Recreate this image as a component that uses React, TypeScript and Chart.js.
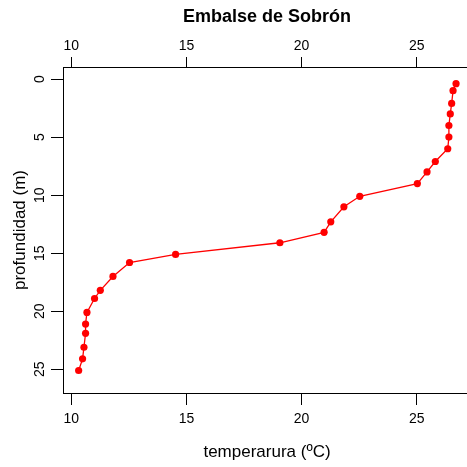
import React, { useEffect, useRef } from "react";
import { Chart, registerables } from "chart.js";

Chart.register(...registerables);

// Depth (m) and temperature (ºC) profile
const depths = [0.4, 1, 2.1, 3, 4, 5, 6, 7.1, 8, 9, 10.1, 11, 12.3, 13.2, 14.1, 15.1, 15.8, 17, 18.2, 18.9, 20.1, 21.1, 21.9, 23.1, 24.1, 25.1];
const temps = [26.71, 26.58, 26.52, 26.46, 26.4, 26.4, 26.35, 25.81, 25.45, 25.03, 22.53, 21.84, 21.27, 20.98, 19.06, 14.53, 12.53, 11.81, 11.26, 11.01, 10.68, 10.62, 10.62, 10.55, 10.49, 10.32];

const xTickValues = [10, 15, 20, 25];
const yTickValues = [0, 5, 10, 15, 20, 25];
const xLimits = [9.64, 27.36];
const yLimits = [-1.04, 27.04];

const mainTitle = "Embalse de Sobrón";
const xTitle = "temperarura (ºC)";
const yTitle = "profundidad (m)";

const FONT = '"Liberation Sans", Arial, sans-serif';

export default function App() {
  const ref = useRef<HTMLCanvasElement | null>(null);

  useEffect(() => {
    if (!ref.current) return;
    const points = depths.map((d, i) => ({ x: temps[i], y: d }));
    const gridOpts = (len: number) => ({
      display: true,
      drawOnChartArea: false,
      drawTicks: true,
      tickLength: len,
      tickColor: "#000",
      tickWidth: 1,
    });
    const borderOpts = { display: true, color: "#000", width: 1 };
    const chart = new Chart(ref.current, {
      type: "line",
      data: {
        datasets: [
          {
            data: points,
            xAxisID: "x",
            yAxisID: "y",
            borderColor: "#ff0000",
            backgroundColor: "#ff0000",
            borderWidth: 1.3,
            pointRadius: 3.6,
            pointBorderWidth: 0,
            pointBackgroundColor: "#ff0000",
            fill: false,
            tension: 0,
            clip: false as any,
          },
        ],
      },
      options: {
        responsive: false,
        animation: false,
        devicePixelRatio: 1,
        layout: { padding: { left: 0, top: 0, right: 4, bottom: 0 } },
        plugins: {
          legend: { display: false },
          title: { display: false },
          tooltip: { enabled: false },
        },
        scales: {
          x: {
            type: "linear",
            position: "bottom",
            min: xLimits[0],
            max: xLimits[1],
            afterBuildTicks: (s: any) => {
              s.ticks = xTickValues.map((v) => ({ value: v }));
            },
            afterFit: (s: any) => {
              s.height = 74;
            },
            grid: gridOpts(12),
            border: borderOpts,
            ticks: {
              autoSkip: false,
              maxRotation: 0,
              minRotation: 0,
              padding: 6,
              color: "#000",
              font: { family: FONT, size: 14 },
            },
            title: {
              display: true,
              text: xTitle,
              color: "#000",
              font: { family: FONT, size: 17 },
              padding: { top: 0, bottom: 4 },
            },
          },
          x2: {
            type: "linear",
            position: "top",
            min: xLimits[0],
            max: xLimits[1],
            afterBuildTicks: (s: any) => {
              s.ticks = xTickValues.map((v) => ({ value: v }));
            },
            afterFit: (s: any) => {
              s.height = 67;
            },
            grid: gridOpts(10),
            border: borderOpts,
            ticks: {
              autoSkip: false,
              maxRotation: 0,
              minRotation: 0,
              padding: 2,
              color: "#000",
              font: { family: FONT, size: 14 },
            },
            title: {
              display: true,
              text: mainTitle,
              color: "#000",
              font: { family: FONT, size: 18, weight: "bold" },
              padding: { top: 6, bottom: 0 },
            },
          },
          y: {
            type: "linear",
            position: "left",
            reverse: true,
            min: yLimits[0],
            max: yLimits[1],
            afterBuildTicks: (s: any) => {
              s.ticks = yTickValues.map((v) => ({ value: v }));
            },
            afterFit: (s: any) => {
              s.width = 63;
            },
            grid: gridOpts(12),
            border: borderOpts,
            ticks: {
              autoSkip: false,
              minRotation: 90,
              maxRotation: 90,
              crossAlign: "center",
              padding: 3,
              color: "#000",
              font: { family: FONT, size: 14 },
            },
            title: {
              display: true,
              text: yTitle,
              color: "#000",
              font: { family: FONT, size: 17 },
              padding: { top: 10, bottom: 0 },
            },
          },
        },
      } as any,
    });
    return () => chart.destroy();
  }, []);

  return (
    <div
      style={{
        position: "fixed",
        left: 0,
        top: 0,
        width: 467,
        height: 467,
        overflow: "hidden",
        background: "#fff",
      }}
    >
      <canvas ref={ref} width={475} height={467} style={{ display: "block" }} />
    </div>
  );
}
